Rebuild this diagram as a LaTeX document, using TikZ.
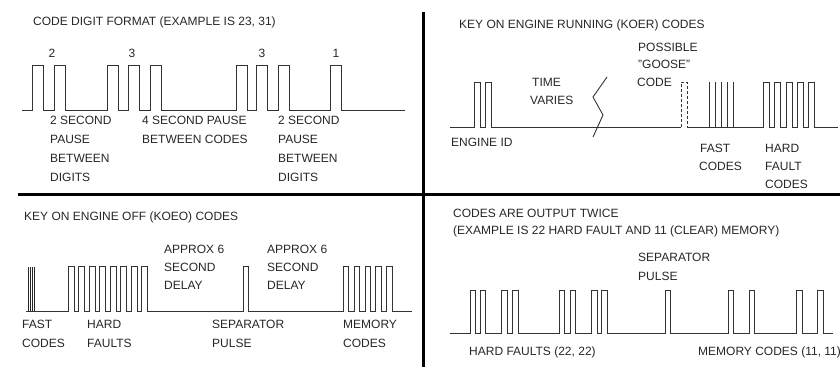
\documentclass[tikz,border=0pt]{standalone}
\usepackage{fontspec}
\setmainfont{Liberation Sans}
\newcommand\mylbl[4]{\node[lbl] (#1) at (#2,#3) {#4};}
\begin{document}
\begin{tikzpicture}[x=1pt,y=-1pt,
  wave/.style={line width=0.9pt, draw=black!80, line join=miter},
  fastline/.style={line width=1.1pt, draw=black!85},
  goose/.style={line width=0.9pt, draw=black!80, dash pattern=on 3pt off 2pt},
  divider/.style={line width=3pt, draw=black},
  lbl/.style={anchor=base west, inner sep=0pt, font=\fontsize{12}{14}\selectfont, text=black!85}]
\useasboundingbox (0,0) rectangle (840,367);

% dividers
\coordinate (vtop) at (423,12);
\coordinate (vbot) at (423,367);
\coordinate (hl) at (18,194);
\coordinate (hr) at (840,194);
\draw[divider] (vtop) -- (vbot);
\draw[divider] (hl) -- (hr);

% ---------- panel 1: code digit format ----------
\mylbl{p1title}{33}{25}{CODE DIGIT FORMAT (EXAMPLE IS 23, 31)}
\node[lbl, anchor=base] (d1) at (52,57) {2};
\node[lbl, anchor=base] (d2) at (132,57) {3};
\node[lbl, anchor=base] (d3) at (262,57) {3};
\node[lbl, anchor=base] (d4) at (336,57) {1};
\draw[wave] (22,110)
  \foreach \x in {32,54,107,128,150,236,256,278,330} { -- (\x,110) -- (\x,65) -- (\x+11,65) -- (\x+11,110) }
  -- (405,110);
\mylbl{a1}{50}{124}{2 SECOND}
\mylbl{a2}{50}{143}{PAUSE}
\mylbl{a3}{50}{162}{BETWEEN}
\mylbl{a4}{50}{181}{DIGITS}
\mylbl{b1}{142}{124}{4 SECOND PAUSE}
\mylbl{b2}{142}{143}{BETWEEN CODES}
\mylbl{c1}{278}{124}{2 SECOND}
\mylbl{c2}{278}{143}{PAUSE}
\mylbl{c3}{278}{162}{BETWEEN}
\mylbl{c4}{278}{181}{DIGITS}

% ---------- panel 2: KOER ----------
\mylbl{p2title}{459}{28}{KEY ON ENGINE RUNNING (KOER) CODES}
\draw[wave] (450,127)
  \foreach \x in {474,485} { -- (\x,127) -- (\x,82) -- (\x+6,82) -- (\x+6,127) }
  -- (681,127);
\draw[goose] (681,127) -- (681,82) -- (687,82) -- (687,127);
\draw[wave] (687,127)
  \foreach \x in {709,715,721,727,733} { -- (\x,127) -- (\x,82) -- (\x,127) }
  \foreach \x in {763,774.5,786,797,808} { -- (\x,127) -- (\x,82) -- (\x+6,82) -- (\x+6,127) }
  -- (838,127);
\draw[wave] (607,77) -- (593,97) -- (603,115) -- (593,137);
\mylbl{time1}{532}{86}{TIME}
\mylbl{time2}{530}{104}{VARIES}
\mylbl{g1}{638}{51}{POSSIBLE}
\mylbl{g2}{638}{68}{"GOOSE"}
\mylbl{g3}{637}{86}{CODE}
\mylbl{eid}{451}{146}{ENGINE ID}
\mylbl{f1}{700}{152}{FAST}
\mylbl{f2}{699}{170}{CODES}
\mylbl{h1}{765}{152}{HARD}
\mylbl{h2}{765}{170}{FAULT}
\mylbl{h3}{765}{188}{CODES}

% ---------- panel 3: KOEO ----------
\mylbl{p3title}{24}{220}{KEY ON ENGINE OFF (KOEO) CODES}
\foreach \x in {28.3,30.3,32.3,34.3} { \draw[fastline] (\x,311) -- (\x,267); }
\draw[wave] (26,311)
  \foreach \i in {0,...,7} { -- (68.3+10.5*\i,311) -- (68.3+10.5*\i,266) -- (74+10.5*\i,266) -- (74+10.5*\i,311) }
  -- (243.3,311) -- (243.3,266) -- (248.5,266) -- (248.5,311)
  \foreach \x in {343.3,354,365,375.7,386.7} { -- (\x,311) -- (\x,266) -- (\x+5.5,266) -- (\x+5.5,311) }
  -- (412,311);
\mylbl{ap1}{164}{253}{APPROX 6}
\mylbl{ap2}{164}{271}{SECOND}
\mylbl{ap3}{164}{289}{DELAY}
\mylbl{aq1}{267}{253}{APPROX 6}
\mylbl{aq2}{267}{271}{SECOND}
\mylbl{aq3}{267}{289}{DELAY}
\mylbl{fc1}{22}{328}{FAST}
\mylbl{fc2}{22}{347}{CODES}
\mylbl{hf1}{87}{328}{HARD}
\mylbl{hf2}{87}{347}{FAULTS}
\mylbl{sp1}{212}{328}{SEPARATOR}
\mylbl{sp2}{212}{347}{PULSE}
\mylbl{mc1}{343}{328}{MEMORY}
\mylbl{mc2}{343}{347}{CODES}

% ---------- panel 4: codes output twice ----------
\mylbl{p4title}{453}{217}{CODES ARE OUTPUT TWICE}
\mylbl{p4sub}{453}{234}{(EXAMPLE IS 22 HARD FAULT AND 11 (CLEAR) MEMORY)}
\mylbl{s1}{638}{261}{SEPARATOR}
\mylbl{s2}{638}{280}{PULSE}
\draw[wave] (450,333)
  \foreach \x in {470,480.3,501.7,512.7,559.3,570,591.7,601.7,665,728.3,749.3,796.7,817.7} { -- (\x,333) -- (\x,290) -- (\x+5.5,290) -- (\x+5.5,333) }
  -- (833,333);
\mylbl{hf22}{469}{355}{HARD FAULTS (22, 22)}
\mylbl{mc11}{698}{355}{MEMORY CODES (11, 11)}
\end{tikzpicture}
\end{document}
